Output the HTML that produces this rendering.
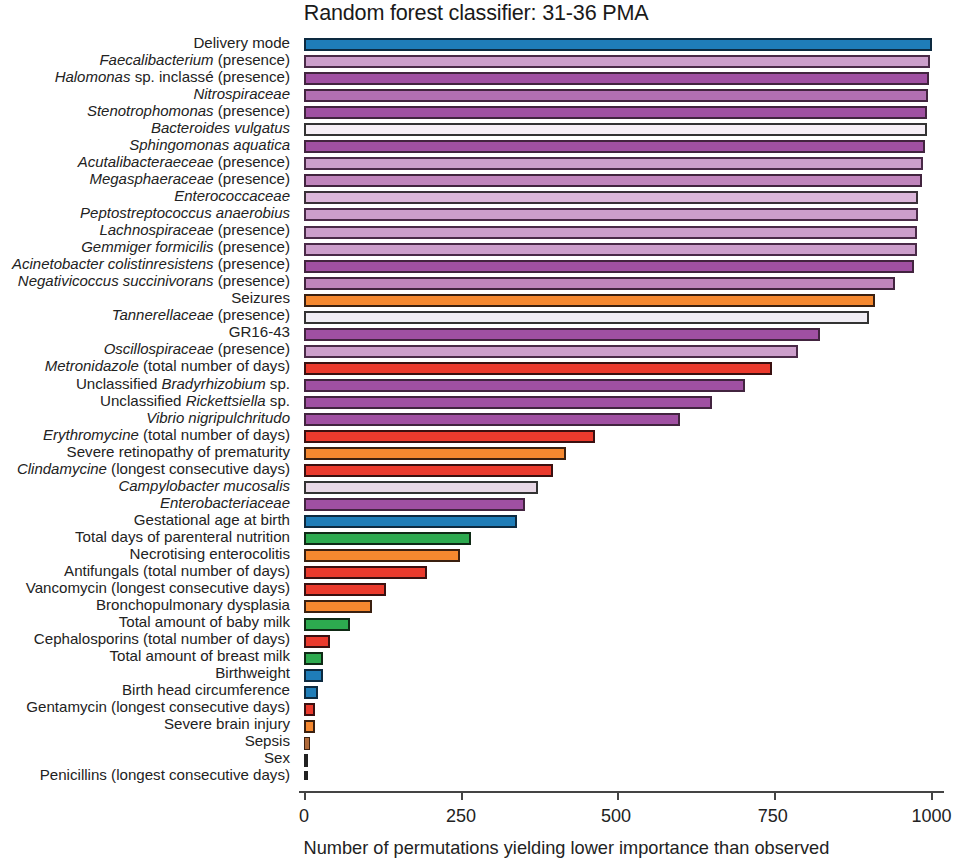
<!DOCTYPE html>
<html><head><meta charset="utf-8"><style>
html,body{margin:0;padding:0;background:#ffffff;}
body{width:964px;height:867px;overflow:hidden;position:relative;font-family:"Liberation Sans",sans-serif;color:#222;}
.lb{position:absolute;right:674px;font-size:15.12px;white-space:nowrap;line-height:1;}
.bar{position:absolute;box-sizing:border-box;}
.t{position:absolute;white-space:nowrap;line-height:1;}
.lb i{font-size:0.992em;}
</style></head><body>
<div class="t" style="left:303.8px;top:2.02px;font-size:21.6px;letter-spacing:-0.2px;color:#1a1a1a">Random forest classifier: 31-36 PMA</div>
<div class="lb" style="top:34.90px">Delivery mode</div>
<div class="bar" style="left:304.40px;top:38.00px;width:628.10px;height:13.00px;background:#1f7db8;border:2.0px solid #0d2a40;border-left-width:2.7px"></div>
<div class="lb" style="top:51.93px"><i>Faecalibacterium</i> (presence)</div>
<div class="bar" style="left:304.40px;top:55.05px;width:625.40px;height:13.00px;background:#cc9ecb;border:2.0px solid #4a2a48;border-left-width:2.7px"></div>
<div class="lb" style="top:68.96px"><i>Halomonas</i> sp. inclassé (presence)</div>
<div class="bar" style="left:304.40px;top:72.09px;width:625.00px;height:13.00px;background:#a050a2;border:2.0px solid #42243f;border-left-width:2.7px"></div>
<div class="lb" style="top:85.99px"><i>Nitrospiraceae</i></div>
<div class="bar" style="left:304.40px;top:89.14px;width:623.50px;height:13.00px;background:#b26fb2;border:2.0px solid #42243f;border-left-width:2.7px"></div>
<div class="lb" style="top:103.02px"><i>Stenotrophomonas</i> (presence)</div>
<div class="bar" style="left:304.40px;top:106.18px;width:622.60px;height:13.00px;background:#a050a2;border:2.0px solid #42243f;border-left-width:2.7px"></div>
<div class="lb" style="top:120.06px"><i>Bacteroides vulgatus</i></div>
<div class="bar" style="left:304.40px;top:123.23px;width:622.50px;height:13.00px;background:#f6eff6;border:2.0px solid #333333;border-left-width:2.7px"></div>
<div class="lb" style="top:137.09px"><i>Sphingomonas aquatica</i></div>
<div class="bar" style="left:304.40px;top:140.27px;width:620.50px;height:13.00px;background:#a050a2;border:2.0px solid #42243f;border-left-width:2.7px"></div>
<div class="lb" style="top:154.12px"><i>Acutalibacteraeceae</i> (presence)</div>
<div class="bar" style="left:304.40px;top:157.31px;width:618.50px;height:13.00px;background:#cc9ecb;border:2.0px solid #4a2a48;border-left-width:2.7px"></div>
<div class="lb" style="top:171.15px"><i>Megasphaeraceae</i> (presence)</div>
<div class="bar" style="left:304.40px;top:174.36px;width:617.40px;height:13.00px;background:#c084bc;border:2.0px solid #42243f;border-left-width:2.7px"></div>
<div class="lb" style="top:188.18px"><i>Enterococcaceae</i></div>
<div class="bar" style="left:304.40px;top:191.41px;width:614.00px;height:13.00px;background:#dcb6da;border:2.0px solid #3a3038;border-left-width:2.7px"></div>
<div class="lb" style="top:205.21px"><i>Peptostreptococcus anaerobius</i></div>
<div class="bar" style="left:304.40px;top:208.45px;width:614.00px;height:13.00px;background:#cc9ecb;border:2.0px solid #4a2a48;border-left-width:2.7px"></div>
<div class="lb" style="top:222.24px"><i>Lachnospiraceae</i> (presence)</div>
<div class="bar" style="left:304.40px;top:225.50px;width:612.80px;height:13.00px;background:#cc9ecb;border:2.0px solid #4a2a48;border-left-width:2.7px"></div>
<div class="lb" style="top:239.27px"><i>Gemmiger formicilis</i> (presence)</div>
<div class="bar" style="left:304.40px;top:242.54px;width:612.80px;height:13.00px;background:#cc9ecb;border:2.0px solid #4a2a48;border-left-width:2.7px"></div>
<div class="lb" style="top:256.30px"><i>Acinetobacter colistinresistens</i> (presence)</div>
<div class="bar" style="left:304.40px;top:259.59px;width:609.30px;height:13.00px;background:#a050a2;border:2.0px solid #42243f;border-left-width:2.7px"></div>
<div class="lb" style="top:273.33px"><i>Negativicoccus succinivorans</i> (presence)</div>
<div class="bar" style="left:304.40px;top:276.63px;width:590.90px;height:13.00px;background:#c084bc;border:2.0px solid #42243f;border-left-width:2.7px"></div>
<div class="lb" style="top:290.37px">Seizures</div>
<div class="bar" style="left:304.40px;top:293.68px;width:570.60px;height:13.00px;background:#f5882f;border:2.0px solid #3a2010;border-left-width:2.7px"></div>
<div class="lb" style="top:307.40px"><i>Tannerellaceae</i> (presence)</div>
<div class="bar" style="left:304.40px;top:310.72px;width:564.20px;height:13.00px;background:#f0edf4;border:2.0px solid #333333;border-left-width:2.7px"></div>
<div class="lb" style="top:324.43px">GR16-43</div>
<div class="bar" style="left:304.40px;top:327.77px;width:516.00px;height:13.00px;background:#a050a2;border:2.0px solid #42243f;border-left-width:2.7px"></div>
<div class="lb" style="top:341.46px"><i>Oscillospiraceae</i> (presence)</div>
<div class="bar" style="left:304.40px;top:344.81px;width:493.80px;height:13.00px;background:#cc9ecb;border:2.0px solid #4a2a48;border-left-width:2.7px"></div>
<div class="lb" style="top:358.49px"><i>Metronidazole</i> (total number of days)</div>
<div class="bar" style="left:304.40px;top:361.86px;width:467.50px;height:13.00px;background:#eb3a2d;border:2.0px solid #3a1010;border-left-width:2.7px"></div>
<div class="lb" style="top:375.52px">Unclassified <i>Bradyrhizobium</i> sp.</div>
<div class="bar" style="left:304.40px;top:378.90px;width:441.00px;height:13.00px;background:#a050a2;border:2.0px solid #42243f;border-left-width:2.7px"></div>
<div class="lb" style="top:392.55px">Unclassified <i>Rickettsiella</i> sp.</div>
<div class="bar" style="left:304.40px;top:395.95px;width:408.10px;height:13.00px;background:#a050a2;border:2.0px solid #42243f;border-left-width:2.7px"></div>
<div class="lb" style="top:409.58px"><i>Vibrio nigripulchritudo</i></div>
<div class="bar" style="left:304.40px;top:412.99px;width:376.10px;height:13.00px;background:#a050a2;border:2.0px solid #42243f;border-left-width:2.7px"></div>
<div class="lb" style="top:426.61px"><i>Erythromycine</i> (total number of days)</div>
<div class="bar" style="left:304.40px;top:430.04px;width:290.30px;height:13.00px;background:#eb3a2d;border:2.0px solid #3a1010;border-left-width:2.7px"></div>
<div class="lb" style="top:443.64px">Severe retinopathy of prematurity</div>
<div class="bar" style="left:304.40px;top:447.08px;width:261.20px;height:13.00px;background:#f5882f;border:2.0px solid #3a2010;border-left-width:2.7px"></div>
<div class="lb" style="top:460.68px"><i>Clindamycine</i> (longest consecutive days)</div>
<div class="bar" style="left:304.40px;top:464.13px;width:248.70px;height:13.00px;background:#eb3a2d;border:2.0px solid #3a1010;border-left-width:2.7px"></div>
<div class="lb" style="top:477.71px"><i>Campylobacter mucosalis</i></div>
<div class="bar" style="left:304.40px;top:481.17px;width:233.20px;height:13.00px;background:#e8d8e6;border:2.0px solid #333333;border-left-width:2.7px"></div>
<div class="lb" style="top:494.74px"><i>Enterobacteriaceae</i></div>
<div class="bar" style="left:304.40px;top:498.22px;width:220.90px;height:13.00px;background:#a050a2;border:2.0px solid #42243f;border-left-width:2.7px"></div>
<div class="lb" style="top:511.77px">Gestational age at birth</div>
<div class="bar" style="left:304.40px;top:515.26px;width:212.40px;height:13.00px;background:#1f7db8;border:2.0px solid #0d2a40;border-left-width:2.7px"></div>
<div class="lb" style="top:528.80px">Total days of parenteral nutrition</div>
<div class="bar" style="left:304.40px;top:532.31px;width:166.30px;height:13.00px;background:#2daa4f;border:2.0px solid #0f2a15;border-left-width:2.7px"></div>
<div class="lb" style="top:545.83px">Necrotising enterocolitis</div>
<div class="bar" style="left:304.40px;top:549.35px;width:155.20px;height:13.00px;background:#f5882f;border:2.0px solid #3a2010;border-left-width:2.7px"></div>
<div class="lb" style="top:562.86px">Antifungals (total number of days)</div>
<div class="bar" style="left:304.40px;top:566.40px;width:122.50px;height:13.00px;background:#eb3a2d;border:2.0px solid #3a1010;border-left-width:2.7px"></div>
<div class="lb" style="top:579.89px">Vancomycin (longest consecutive days)</div>
<div class="bar" style="left:304.40px;top:583.44px;width:81.40px;height:13.00px;background:#eb3a2d;border:2.0px solid #3a1010;border-left-width:2.7px"></div>
<div class="lb" style="top:596.92px">Bronchopulmonary dysplasia</div>
<div class="bar" style="left:304.40px;top:600.49px;width:67.60px;height:13.00px;background:#f5882f;border:2.0px solid #3a2010;border-left-width:2.7px"></div>
<div class="lb" style="top:613.95px">Total amount of baby milk</div>
<div class="bar" style="left:304.40px;top:617.53px;width:45.50px;height:13.00px;background:#2daa4f;border:2.0px solid #0f2a15;border-left-width:2.7px"></div>
<div class="lb" style="top:630.99px">Cephalosporins (total number of days)</div>
<div class="bar" style="left:304.40px;top:634.58px;width:26.10px;height:13.00px;background:#eb3a2d;border:2.0px solid #3a1010;border-left-width:2.7px"></div>
<div class="lb" style="top:648.02px">Total amount of breast milk</div>
<div class="bar" style="left:304.40px;top:651.62px;width:19.00px;height:13.00px;background:#2daa4f;border:2.0px solid #0f2a15;border-left-width:2.7px"></div>
<div class="lb" style="top:665.05px">Birthweight</div>
<div class="bar" style="left:304.40px;top:668.67px;width:18.20px;height:13.00px;background:#1f7db8;border:2.0px solid #0d2a40;border-left-width:2.7px"></div>
<div class="lb" style="top:682.08px">Birth head circumference</div>
<div class="bar" style="left:304.40px;top:685.71px;width:14.00px;height:13.00px;background:#1f7db8;border:2.0px solid #0d2a40;border-left-width:2.0px"></div>
<div class="lb" style="top:699.11px">Gentamycin (longest consecutive days)</div>
<div class="bar" style="left:304.40px;top:702.76px;width:10.40px;height:13.00px;background:#eb3a2d;border:2.0px solid #3a1010;border-left-width:2.0px"></div>
<div class="lb" style="top:716.14px">Severe brain injury</div>
<div class="bar" style="left:304.40px;top:719.80px;width:10.40px;height:13.00px;background:#f5882f;border:2.0px solid #3a2010;border-left-width:2.0px"></div>
<div class="lb" style="top:733.17px">Sepsis</div>
<div class="bar" style="left:304.40px;top:736.85px;width:5.20px;height:13.00px;background:#b06a3a;border:1.8px solid #3a2010;border-left-width:1.8px"></div>
<div class="lb" style="top:750.20px">Sex</div>
<div class="bar" style="left:304.40px;top:753.89px;width:4.00px;height:13.00px;background:#222222;border:0.0px solid #111111;border-left-width:0.0px"></div>
<div class="lb" style="top:767.23px">Penicillins (longest consecutive days)</div>
<div class="bar" style="left:304.40px;top:770.94px;width:3.50px;height:9.00px;background:#222222;border:0.0px solid #111111;border-left-width:0.0px"></div>
<div style="position:absolute;left:299px;top:791px;width:645px;height:2px;background:#444"></div>
<div style="position:absolute;left:304.00px;top:792px;width:2px;height:8px;background:#444"></div>
<div class="t" style="left:304.00px;top:806.96px;font-size:18px;width:80px;margin-left:-40px;text-align:center">0</div>
<div style="position:absolute;left:460.70px;top:792px;width:2px;height:8px;background:#444"></div>
<div class="t" style="left:461.10px;top:806.96px;font-size:18px;width:80px;margin-left:-40px;text-align:center">250</div>
<div style="position:absolute;left:617.40px;top:792px;width:2px;height:8px;background:#444"></div>
<div class="t" style="left:616.00px;top:806.96px;font-size:18px;width:80px;margin-left:-40px;text-align:center">500</div>
<div style="position:absolute;left:774.10px;top:792px;width:2px;height:8px;background:#444"></div>
<div class="t" style="left:772.70px;top:806.96px;font-size:18px;width:80px;margin-left:-40px;text-align:center">750</div>
<div style="position:absolute;left:930.80px;top:792px;width:2px;height:8px;background:#444"></div>
<div class="t" style="left:931.50px;top:806.96px;font-size:18px;width:80px;margin-left:-40px;text-align:center">1000</div>
<div class="t" style="left:303.6px;top:839.29px;font-size:18.2px">Number of permutations yielding lower importance than observed</div>
</body></html>
